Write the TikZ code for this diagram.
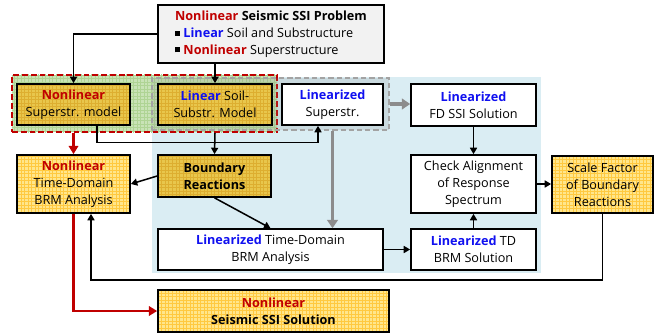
\documentclass[tikz,border=0pt]{standalone}
\usepackage{fontspec}
\setmainfont{Open Sans}
\usetikzlibrary{arrows.meta,patterns,calc}
\definecolor{diagramRed}{HTML}{C00000}
\definecolor{diagramBlue}{HTML}{1010F0}
\definecolor{diagramGold}{HTML}{E8C64C}
\definecolor{diagramGoldGrid}{HTML}{DDAE30}
\definecolor{diagramCream}{HTML}{FFE68C}
\definecolor{diagramCreamGrid}{HTML}{FFC940}
\definecolor{diagramGreen}{HTML}{C9E3B6}
\definecolor{diagramGreenGrid}{HTML}{AFD494}
\definecolor{diagramSky}{HTML}{DAEDF3}
\definecolor{diagramTop}{HTML}{F2F2F2}
\definecolor{diagramGray}{HTML}{8C8C8C}
\newcommand{\redword}[1]{\textcolor{diagramRed}{\textbf{#1}}}
\newcommand{\blueword}[1]{\textcolor{diagramBlue}{\textbf{#1}}}
\newcommand{\bul}{\rule[0.25ex]{0.75ex}{0.75ex}}

\begin{document}
\begin{tikzpicture}[
    x=0.03cm,y=-0.03cm,
    every node/.style={font=\fontsize{10.8}{14.4}\selectfont,align=center,inner sep=0pt},
    plain/.style={draw=black,fill=white,line width=1.4pt},
    topbox/.style={draw=black,fill=diagramTop,line width=1.4pt},
    goldbox/.style={draw=black,line width=1.4pt,preaction={fill=diagramGold},pattern=grid,pattern color=diagramGoldGrid},
    creambox/.style={draw=black,line width=1.4pt,preaction={fill=diagramCream},pattern=grid,pattern color=diagramCreamGrid},
    nlzone/.style={draw=diagramRed,dash pattern=on 5pt off 2.5pt,line width=1.5pt,preaction={fill=diagramGreen},pattern=grid,pattern color=diagramGreenGrid},
    linzone/.style={draw=diagramGray!80,dash pattern=on 4.5pt off 2.5pt,line width=1.3pt,fill=gray,fill opacity=0.18,draw opacity=1},
    skyzone/.style={fill=diagramSky},
    flow/.style={-{Triangle[length=5.5pt,width=6pt]},draw=black,line width=1.3pt},
    grayflow/.style={-{Triangle[length=7pt,width=9pt]},draw=diagramGray,line width=2.8pt},
    redflow/.style={-{Triangle[length=7pt,width=8pt]},draw=diagramRed,line width=2.4pt}
]
\useasboundingbox (0,0) rectangle (665,335);
% zones behind the boxes
\node[skyzone,minimum width=11.67cm,minimum height=5.88cm] (lindomain) at (346.5,175) {};
\node[nlzone,minimum width=7.95cm,minimum height=1.71cm] (nlarea) at (144.5,103.5) {};
\node[linzone,minimum width=7.11cm,minimum height=1.56cm] (linarea) at (270.5,104) {};

\node[topbox,minimum width=6.78cm,minimum height=1.74cm,align=left] (problem) at (271,34)
    {\redword{Nonlinear} \textbf{Seismic SSI Problem}\\
     \bul\ \blueword{Linear} Soil and Substructure\\
     \bul\ \redword{Nonlinear} Superstructure};
\node[goldbox,minimum width=3.39cm,minimum height=1.23cm] (nlmodel) at (73.5,104.5) {\redword{Nonlinear}\\Superstr. model};
\node[goldbox,minimum width=3.42cm,minimum height=1.23cm] (soilmodel) at (215,104.5) {\blueword{Linear} Soil-\\Substr. Model};
\node[plain,minimum width=3.03cm,minimum height=1.23cm] (linsup) at (332.5,104.5) {\blueword{Linearized}\\Superstr.};
\node[plain,minimum width=3.75cm,minimum height=1.26cm] (fdssi) at (473.5,105) {\blueword{Linearized}\\FD SSI Solution};
\node[creambox,minimum width=3.39cm,minimum height=1.74cm] (nltd) at (73.5,184) {\redword{Nonlinear}\\Time-Domain\\BRM Analysis};
\node[goldbox,minimum width=3.39cm,minimum height=1.26cm] (bound) at (214.5,176) {\textbf{Boundary}\\\textbf{Reactions}};
\node[plain,minimum width=3.75cm,minimum height=1.74cm] (check) at (473.5,184) {Check Alignment\\of Response\\Spectrum};
\node[creambox,minimum width=3.03cm,minimum height=1.71cm] (scale) at (602.5,184.5) {Scale Factor\\of Boundary\\Reactions};
\node[plain,minimum width=6.75cm,minimum height=1.23cm] (lintd) at (270.5,249.5) {\blueword{Linearized} Time-Domain\\BRM Analysis};
\node[plain,minimum width=3.75cm,minimum height=1.23cm] (tdsol) at (473.5,249.5) {\blueword{Linearized} TD\\BRM Solution};
\node[creambox,minimum width=6.93cm,minimum height=1.26cm] (solution) at (273.5,311) {\redword{Nonlinear}\\\textbf{Seismic SSI Solution}};

% connectors
\draw[flow] (problem.west) -| (nlmodel.north);
\draw[flow] (soilmodel.north |- problem.south) -- (soilmodel.north);
\draw[flow] ($(nlmodel.south)+(23.5,0)$) -- ++(0,16.5) -| ($(linsup.south)+(-14.5,0)$);
\draw[redflow] (nltd.north |- nlarea.south) -- (nltd.north);
\draw[flow] (soilmodel.south |- nlarea.south) -- (bound.north);
\draw[flow] (bound.west) -- (nltd.east);
\draw[flow] (bound.south) -- (lintd.north);
\draw[grayflow] (linsup.south |- linarea.south) -- (linsup.south |- lintd.north);
\draw[grayflow] (linarea.east) -- (linarea.east -| fdssi.west);
\draw[flow] (fdssi.south) -- (check.north);
\draw[flow] (tdsol.north) -- (check.south);
\draw[flow] (lintd.east) -- (lintd.east -| tdsol.west);
\draw[flow] (check.east) -- (check.east -| scale.west);
\draw[flow] (scale.south) -- ++(0,66) -| ($(nltd.south)+(17.5,0)$);
\draw[redflow] (nltd.south) |- (solution.west);
\end{tikzpicture}
\end{document}
